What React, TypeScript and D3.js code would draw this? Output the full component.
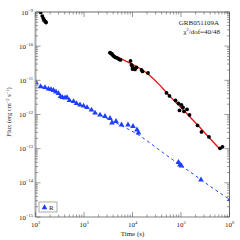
import React, { useEffect, useRef } from 'react'
import * as d3 from 'd3'

// X-ray (black) points: time (s), flux (erg cm^-2 s^-1)
const xrtTime = [121, 128, 138, 145, 150, 152, 162, 165,
	3436, 3605, 3777, 3963, 4155, 4458, 4786, 5270, 5660, 9100, 9530, 10000, 10490, 10000, 11270, 12080, 15340, 16080, 20880,
	50200, 57900, 77100, 88700, 93100, 102300, 109900, 115200, 132900, 149600, 218900, 264600, 377700, 637000, 717000]
const xrtFlux = [1.1e-9, 9.7e-10, 7.6e-10, 6.5e-10, 5.8e-10, 5.5e-10, 5.2e-10, 4.9e-10,
	6.45e-11, 6.1e-11, 5.9e-11, 5.35e-11, 5.0e-11, 4.68e-11, 4.52e-11, 4.14e-11, 3.95e-11, 3.69e-11, 2.82e-11, 2.46e-11, 2.23e-11, 2.15e-11, 2.08e-11, 2.38e-11, 2.01e-11, 1.82e-11, 1.64e-11,
	4.29e-12, 3.5e-12, 2.58e-12, 2.11e-12, 1.32e-12, 1.91e-12, 1.61e-12, 1.23e-12, 1.41e-12, 9.7e-13, 4.8e-13, 3.1e-13, 2.21e-13, 1.02e-13, 1.13e-13]

// R band (blue triangles)
const rTime = [102, 127, 157, 185, 209, 235, 265, 298, 328, 360, 406, 446, 502, 608, 700, 827, 977, 1154, 1428, 1687, 2138, 2710, 3436, 3777, 4568, 5934, 8074, 10240, 12380, 13300, 88700, 95300, 102300, 258000, 1.02e6]
const rFlux = [8.6e-12, 6.6e-12, 6.2e-12, 5.6e-12, 5.4e-12, 5.1e-12, 4.6e-12, 4.14e-12, 3.38e-12, 3.16e-12, 3.06e-12, 3.16e-12, 2.58e-12, 2.41e-12, 2.11e-12, 1.91e-12, 1.78e-12, 1.61e-12, 1.36e-12, 1.11e-12, 9.7e-13, 8.8e-13, 7.7e-13, 5.7e-13, 6.3e-13, 4.96e-13, 4.96e-13, 4.49e-13, 3.55e-13, 2.9e-13, 3.97e-14, 3.36e-14, 3.14e-14, 1.22e-14, 3.3e-15]

// fitted models
const xFitTime = [3126, 5520, 8870, 14280, 22960, 36900, 59300, 95300, 153500, 246600, 396000, 630000]
const xFitFlux = [6.5e-11, 4.4e-11, 3.2e-11, 2.25e-11, 1.42e-11, 7.3e-12, 3.3e-12, 1.75e-12, 8.4e-13, 4.2e-13, 1.95e-13, 9.8e-14]
const rFitTime = [100, 320, 1050, 3436, 7000, 14280, 29100, 59300, 120800, 246600, 502000, 1e6]
const rFitFlux = [8.4e-12, 3.74e-12, 1.61e-12, 6.95e-13, 4.2e-13, 2.45e-13, 1.13e-13, 5.4e-14, 2.65e-14, 1.31e-14, 6.2e-15, 3.3e-15]

const xDecades = [2, 3, 4, 5, 6]
const yDecades = [-9, -10, -11, -12, -13, -14, -15]

const App = () => {
	const ref = useRef<SVGSVGElement>(null)

	useEffect(() => {
		const svg = d3.select(ref.current)
		svg.selectAll('*').remove()

		const left = 35.5, right = 229.5, top = 12, bottom = 217
		const x = d3.scaleLog().domain([1e2, 1e6]).range([left, right])
		const y = d3.scaleLog().domain([1e-15, 1e-9]).range([bottom, top])
		const font = 'Liberation Serif, DejaVu Serif, serif'

		svg.append('rect').attr('width', 240).attr('height', 240).attr('fill', '#fff')

		svg.append('defs').append('clipPath').attr('id', 'clip')
			.append('rect').attr('x', left).attr('y', top).attr('width', right - left).attr('height', bottom - top)

		const plot = svg.append('g').attr('clip-path', 'url(#clip)')

		// fit lines
		const line = d3.line<[number, number]>().x(d => x(d[0])).y(d => y(d[1])).curve(d3.curveBasis)
		plot.append('path')
			.attr('d', line(rFitTime.map((t, i) => [t, rFitFlux[i]])))
			.attr('fill', 'none').attr('stroke', '#2244ff').attr('stroke-width', 1).attr('stroke-dasharray', '3,3')
		plot.append('path')
			.attr('d', line(xFitTime.map((t, i) => [t, xFitFlux[i]])))
			.attr('fill', 'none').attr('stroke', '#ee1111').attr('stroke-width', 1.3)

		// black points
		plot.selectAll('circle.x').data(xrtTime).enter().append('circle')
			.attr('cx', d => x(d)).attr('cy', (d, i) => y(xrtFlux[i])).attr('r', 1.9).attr('fill', '#000')

		// blue triangles
		const tri = d3.symbol().type(d3.symbolTriangle).size(14)
		plot.selectAll('path.r').data(rTime).enter().append('path')
			.attr('d', tri)
			.attr('transform', (d, i) => 'translate(' + x(d) + ',' + y(rFlux[i]) + ')')
			.attr('fill', '#1f3fff')

		// frame
		svg.append('line').attr('x1', left).attr('x2', left).attr('y1', top).attr('y2', bottom).attr('stroke', '#aaa').attr('stroke-width', 2)
		svg.append('line').attr('x1', left).attr('x2', right).attr('y1', bottom).attr('y2', bottom).attr('stroke', '#aaa').attr('stroke-width', 1.5)
		svg.append('line').attr('x1', left).attr('x2', right).attr('y1', top).attr('y2', top).attr('stroke', '#444').attr('stroke-width', 0.8)
		svg.append('line').attr('x1', right).attr('x2', right).attr('y1', top).attr('y2', bottom).attr('stroke', '#444').attr('stroke-width', 0.8)

		const ticks = svg.append('g').attr('stroke', '#555').attr('stroke-width', 0.6)
		xDecades.forEach(p => {
			for (let m = 1; m < 10; m++) {
				const v = m * Math.pow(10, p)
				if (v > 1e6) break
				const len = m === 1 ? 5 : 2.5
				const xx = x(v)
				ticks.append('line').attr('x1', xx).attr('x2', xx).attr('y1', bottom).attr('y2', bottom - len)
				ticks.append('line').attr('x1', xx).attr('x2', xx).attr('y1', top).attr('y2', top + len)
			}
		})
		yDecades.forEach(p => {
			for (let m = 1; m < 10; m++) {
				const v = m * Math.pow(10, p)
				if (v > 1e-9 * 1.0001) break
				const len = m === 1 ? 5 : 2.5
				const yy = y(v)
				ticks.append('line').attr('x1', left).attr('x2', left + len).attr('y1', yy).attr('y2', yy)
				ticks.append('line').attr('x1', right).attr('x2', right - len).attr('y1', yy).attr('y2', yy)
			}
		})

		// tick labels
		xDecades.forEach(p => {
			const t = svg.append('text').attr('x', x(Math.pow(10, p))).attr('y', 227)
				.attr('text-anchor', 'middle').attr('font-family', font).attr('font-size', 7).attr('fill', '#222')
			t.append('tspan').text('10')
			t.append('tspan').attr('dy', -3).attr('font-size', 4.5).text(p)
		})
		yDecades.forEach(p => {
			const t = svg.append('text').attr('x', 33).attr('y', y(Math.pow(10, p)) + 2.5)
				.attr('text-anchor', 'end').attr('font-family', font).attr('font-size', 7).attr('fill', '#222')
			t.append('tspan').text('10')
			t.append('tspan').attr('dy', -3).attr('font-size', 4.5).text('\u2212' + -p)
		})

		// axis titles
		svg.append('text').attr('x', (left + right) / 2).attr('y', 236).attr('text-anchor', 'middle')
			.attr('font-family', font).attr('font-size', 7).attr('fill', '#222').text('Time (s)')
		const yl = svg.append('text').attr('transform', 'translate(11,112) rotate(-90)').attr('text-anchor', 'middle')
			.attr('font-family', font).attr('font-size', 6.5).attr('fill', '#222')
		yl.append('tspan').text('Flux (erg cm')
		yl.append('tspan').attr('dy', -2.5).attr('font-size', 4.5).text('\u22122')
		yl.append('tspan').attr('dy', 2.5).text(' s')
		yl.append('tspan').attr('dy', -2.5).attr('font-size', 4.5).text('\u22121')
		yl.append('tspan').attr('dy', 2.5).text(')')

		// annotations
		svg.append('text').attr('x', 219).attr('y', 25).attr('text-anchor', 'end')
			.attr('font-family', font).attr('font-size', 7).attr('fill', '#222').text('GRB051109A')
		const chi = svg.append('text').attr('x', 220).attr('y', 34).attr('text-anchor', 'end')
			.attr('font-family', font).attr('font-size', 7).attr('fill', '#222')
		chi.append('tspan').text('\u03c7')
		chi.append('tspan').attr('dy', -3).attr('font-size', 4.5).text('2')
		chi.append('tspan').attr('dy', 3).text('/dof=40/48')

		// legend
		svg.append('rect').attr('x', 39).attr('y', 202).attr('width', 18).attr('height', 10)
			.attr('fill', '#fff').attr('stroke', '#888').attr('stroke-width', 0.7)
		svg.append('path').attr('d', tri).attr('transform', 'translate(44.5,207.5)').attr('fill', '#1f3fff')
		svg.append('text').attr('x', 49).attr('y', 210).attr('font-family', font).attr('font-size', 7)
			.attr('fill', '#222').text('R')
	}, [])

	return (
		<svg
			ref={ref}
			width={240}
			height={240}
			style={{ position: 'absolute', left: 0, top: 0 }}
		></svg>
	)
}

export default App
